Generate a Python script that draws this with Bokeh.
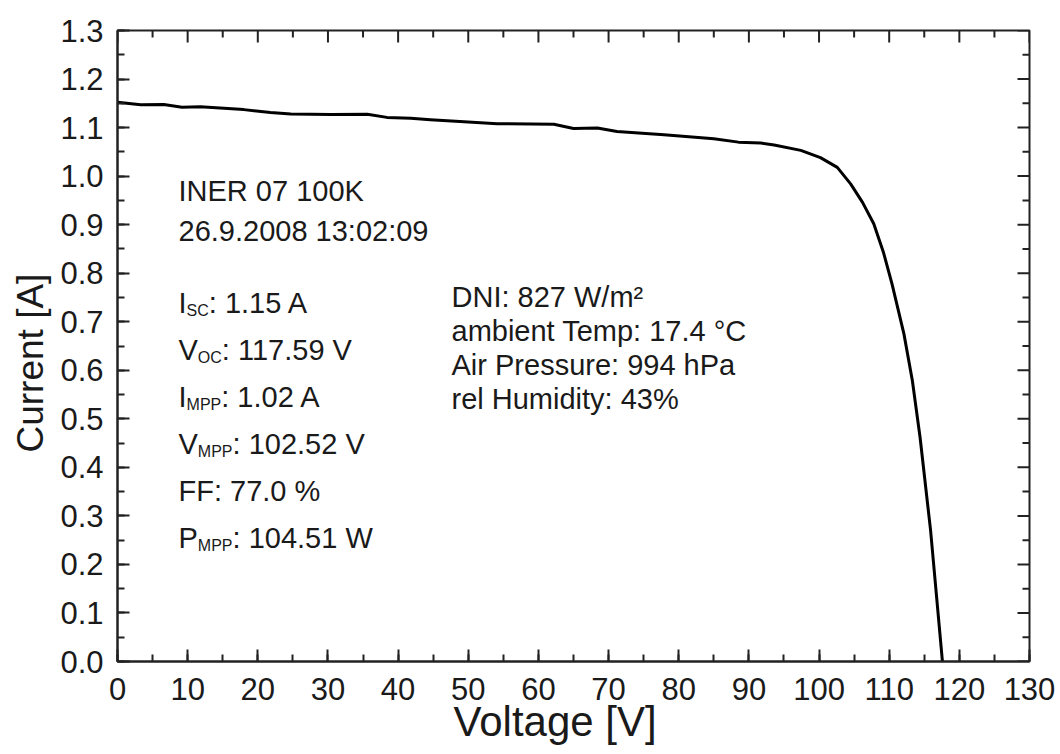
import math
from bokeh.plotting import figure
from bokeh.models import Range1d, SingleIntervalTicker, Label, NumeralTickFormatter, Title
from bokeh.embed import file_html
from bokeh.resources import INLINE

# I-V curve data
voltage = [0.0, 3.3, 6.6, 9.2, 11.8, 18.0, 21.8, 24.7, 30.4, 35.6, 38.4, 41.8, 44.6,
           49.4, 54.1, 62.2, 65.0, 68.4, 71.2, 77.9, 85.0, 88.5, 91.7, 93.6, 97.4,
           100.2, 102.6, 104.5, 106.2, 107.8, 109.2, 110.4, 112.1, 113.3, 114.4,
           115.9, 117.59]
current = [1.152, 1.147, 1.1475, 1.142, 1.143, 1.137, 1.131, 1.128, 1.127, 1.1275,
           1.121, 1.119, 1.116, 1.112, 1.108, 1.107, 1.098, 1.099, 1.092, 1.085,
           1.077, 1.070, 1.068, 1.064, 1.053, 1.038, 1.018, 0.984, 0.946, 0.902,
           0.842, 0.778, 0.675, 0.579, 0.462, 0.270, 0.0]

x_major = [0, 10, 20, 30, 40, 50, 60, 70, 80, 90, 100, 110, 120, 130]
x_minor = [5, 15, 25, 35, 45, 55, 65, 75, 85, 95, 105, 115, 125]
y_major = [0.0, 0.1, 0.2, 0.3, 0.4, 0.5, 0.6, 0.7, 0.8, 0.9, 1.0, 1.1, 1.2, 1.3]
y_minor = [0.05, 0.15, 0.25, 0.35, 0.45, 0.55, 0.65, 0.75, 0.85, 0.95, 1.05, 1.15, 1.25]

x_title = "Voltage [V]"
y_title = "Current [A]"
header_lines = ["INER 07 100K", "26.9.2008 13:02:09"]
# (main letter, subscript, rest)
param_lines = [("I", "SC", ": 1.15 A"), ("V", "OC", ": 117.59 V"), ("I", "MPP", ": 1.02 A"),
               ("V", "MPP", ": 102.52 V"), ("FF: 77.0 %", "", ""), ("P", "MPP", ": 104.51 W")]
cond_lines = ["DNI: 827 W/m\u00b2", "ambient Temp: 17.4 \u00b0C", "Air Pressure: 994 hPa",
              "rel Humidity: 43%"]

FONT = "Liberation Sans"
TXT = "#1a1a1a"
LINE = "#222222"

FW, FH = 912, 631
X0, X1, Y0, Y1 = 0, 130, 0, 1.3


def ydata(px_from_top):
    return Y1 - px_from_top / FH * (Y1 - Y0)


def xdata(px_from_left):
    return X0 + px_from_left / FW * (X1 - X0)


CW = {"I": 0.278, "V": 0.667, "P": 0.667, "S": 0.667, "C": 0.722, "O": 0.778, "M": 0.833}


def width(s, size):
    return sum(CW.get(c, 0.556) for c in s) * size


p = figure(frame_width=FW, frame_height=FH, x_range=Range1d(X0, X1), y_range=Range1d(Y0, Y1),
           output_backend="svg", toolbar_location=None,
           min_border_left=117, min_border_top=30, min_border_right=31, min_border_bottom=93)
p.grid.visible = False
p.background_fill_color = "white"
p.border_fill_color = "white"
p.outline_line_color = LINE
p.outline_line_width = 2

xb = p.below[0]
yl = p.left[0]
xb.ticker = SingleIntervalTicker(interval=10, num_minor_ticks=2)
yl.ticker = SingleIntervalTicker(interval=0.1, num_minor_ticks=2)
yl.formatter = NumeralTickFormatter(format="0.0")

for ax in [xb, yl]:
    ax.axis_line_color = LINE
    ax.axis_line_width = 2
    ax.major_tick_line_color = LINE
    ax.minor_tick_line_color = LINE
    ax.major_tick_line_width = 2
    ax.minor_tick_line_width = 2
    ax.major_tick_in = 12
    ax.major_tick_out = 0
    ax.minor_tick_in = 7
    ax.minor_tick_out = 0
    ax.major_label_text_font = FONT
    ax.major_label_text_font_size = "31px"
    ax.major_label_text_color = TXT

xb.major_label_standoff = 16
yl.major_label_standoff = 14

# axis titles as side titles (placed slightly off-centre like the reference)
p.add_layout(Title(text=x_title, align="left", offset=336, standoff=-13,
                   text_font=FONT, text_font_size="42px", text_font_style="normal",
                   text_color=TXT), "below")
p.add_layout(Title(text=y_title, align="left", offset=209, standoff=14,
                   text_font=FONT, text_font_size="37px", text_font_style="normal",
                   text_color=TXT), "left")

# mirrored inward ticks on the top and right frame edges
p.ray(x=x_major, y=Y1, length=12, length_units="screen", angle=-math.pi / 2,
      line_color=LINE, line_width=2)
p.ray(x=x_minor, y=Y1, length=7, length_units="screen", angle=-math.pi / 2,
      line_color=LINE, line_width=2)
p.ray(x=X1, y=y_major, length=12, length_units="screen", angle=math.pi,
      line_color=LINE, line_width=2)
p.ray(x=X1, y=y_minor, length=7, length_units="screen", angle=math.pi,
      line_color=LINE, line_width=2)

p.line(voltage, current, line_color="black", line_width=3, line_join="round")

MAIN = 29
SUB = 16


def add_label(x, y, text, size=MAIN, x_off=0, y_off=0):
    p.add_layout(Label(x=x, y=y, text=text, x_offset=x_off, y_offset=y_off,
                       text_font=FONT, text_font_size=f"{size}px", text_color=TXT,
                       text_baseline="alphabetic", text_align="left"))


left_x = xdata(61)
for i, t in enumerate(header_lines):
    add_label(left_x, ydata(160 + 40 * i), t)

for i, (m, s, r) in enumerate(param_lines):
    yy = ydata(272 + 47 * i)
    add_label(left_x, yy, m)
    if s:
        w1 = width(m, MAIN)
        add_label(left_x, yy, s, size=SUB, x_off=w1, y_off=-8)
        add_label(left_x, yy, r, x_off=w1 + width(s, SUB))

right_x = xdata(334)
for i, t in enumerate(cond_lines):
    add_label(right_x, ydata(266 + 34 * i), t)

open("out.html", "w").write(file_html(p, INLINE))
